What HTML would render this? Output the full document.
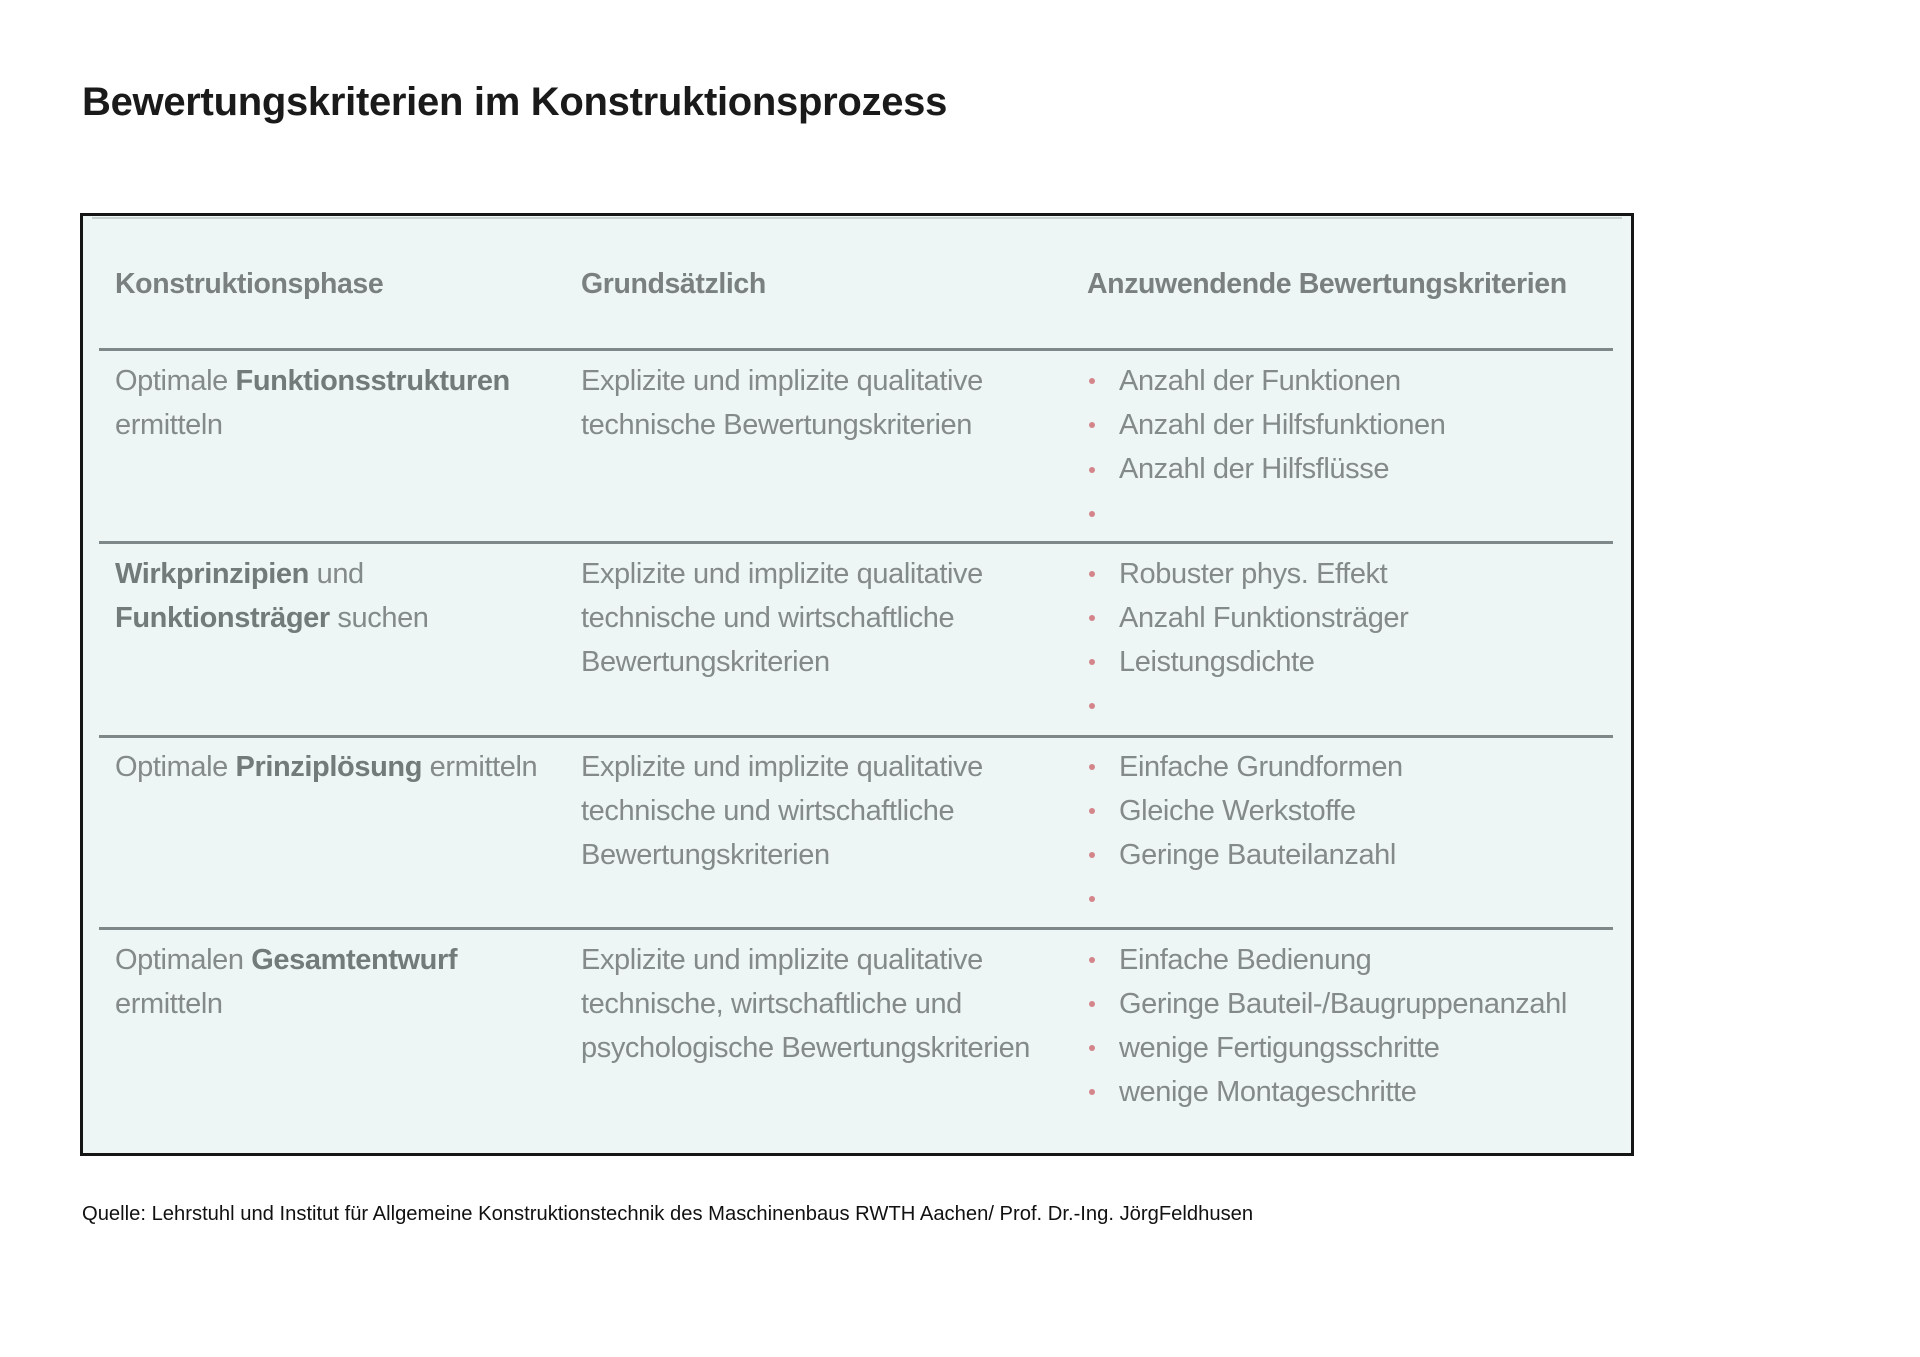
<!DOCTYPE html>
<html><head><meta charset="utf-8"><style>
*{margin:0;padding:0;box-sizing:border-box}
body{width:1920px;height:1357px;background:#fff;position:relative;overflow:hidden;font-family:"Liberation Sans",sans-serif}
.t{position:absolute;left:82px;top:80px;font-size:40px;font-weight:bold;color:#1a1a1a;letter-spacing:-0.3px}
.box{position:absolute;left:80px;top:213px;width:1554px;height:943px;border:3px solid #151515;background:#edf5f5}
.top{position:absolute;left:92px;top:217px;width:1530px;height:2px;background:#c9d0d0}
.r{position:absolute;left:99px;width:1514px;height:3px;background:#7f8888}
.c{position:absolute;font-size:29px;line-height:44px;color:#848a8a;letter-spacing:-0.4px;white-space:nowrap}
.c b{color:#737a7a}
.h{font-weight:bold;color:#7a8080;font-size:28.5px}
.b{position:absolute;width:6px;height:6px;border-radius:50%;background:#d3858a}
.f{position:absolute;left:82px;top:1203px;font-size:20.2px;color:#111;white-space:nowrap}
</style></head><body>
<div class="t">Bewertungskriterien im Konstruktionsprozess</div>
<div class="box"></div>
<div class="top"></div>
<div class="c h" style="left:115px;top:262px">Konstruktionsphase</div>
<div class="c h" style="left:581px;top:262px">Grundsätzlich</div>
<div class="c h" style="left:1087px;top:262px">Anzuwendende Bewertungskriterien</div>
<div class="r" style="top:348px"></div>
<div class="r" style="top:541px"></div>
<div class="r" style="top:735px"></div>
<div class="r" style="top:927px"></div>

<div class="c" style="left:115px;top:359px">Optimale <b>Funktionsstrukturen</b><br>ermitteln</div>
<div class="c" style="left:581px;top:359px">Explizite und implizite qualitative<br>technische Bewertungskriterien</div>
<div class="c" style="left:1119px;top:359px">Anzahl der Funktionen<br>Anzahl der Hilfsfunktionen<br>Anzahl der Hilfsflüsse</div>

<div class="c" style="left:115px;top:552px"><b>Wirkprinzipien</b> und<br><b>Funktionsträger</b> suchen</div>
<div class="c" style="left:581px;top:552px">Explizite und implizite qualitative<br>technische und wirtschaftliche<br>Bewertungskriterien</div>
<div class="c" style="left:1119px;top:552px">Robuster phys. Effekt<br>Anzahl Funktionsträger<br>Leistungsdichte</div>

<div class="c" style="left:115px;top:745px">Optimale <b>Prinziplösung</b> ermitteln</div>
<div class="c" style="left:581px;top:745px">Explizite und implizite qualitative<br>technische und wirtschaftliche<br>Bewertungskriterien</div>
<div class="c" style="left:1119px;top:745px">Einfache Grundformen<br>Gleiche Werkstoffe<br>Geringe Bauteilanzahl</div>

<div class="c" style="left:115px;top:938px">Optimalen <b>Gesamtentwurf</b><br>ermitteln</div>
<div class="c" style="left:581px;top:938px">Explizite und implizite qualitative<br>technische, wirtschaftliche und<br>psychologische Bewertungskriterien</div>
<div class="c" style="left:1119px;top:938px">Einfache Bedienung<br>Geringe Bauteil-/Baugruppenanzahl<br>wenige Fertigungsschritte<br>wenige Montageschritte</div>

<div class="b" style="left:1089px;top:378px"></div><div class="b" style="left:1089px;top:422px"></div><div class="b" style="left:1089px;top:467px"></div><div class="b" style="left:1089px;top:511px"></div>
<div class="b" style="left:1089px;top:571px"></div><div class="b" style="left:1089px;top:615px"></div><div class="b" style="left:1089px;top:659px"></div><div class="b" style="left:1089px;top:703px"></div>
<div class="b" style="left:1089px;top:764px"></div><div class="b" style="left:1089px;top:808px"></div><div class="b" style="left:1089px;top:852px"></div><div class="b" style="left:1089px;top:896px"></div>
<div class="b" style="left:1089px;top:957px"></div><div class="b" style="left:1089px;top:1001px"></div><div class="b" style="left:1089px;top:1045px"></div><div class="b" style="left:1089px;top:1089px"></div>

<div class="f">Quelle: Lehrstuhl und Institut für Allgemeine Konstruktionstechnik des Maschinenbaus RWTH Aachen/ Prof. Dr.-Ing. JörgFeldhusen</div>
</body></html>
